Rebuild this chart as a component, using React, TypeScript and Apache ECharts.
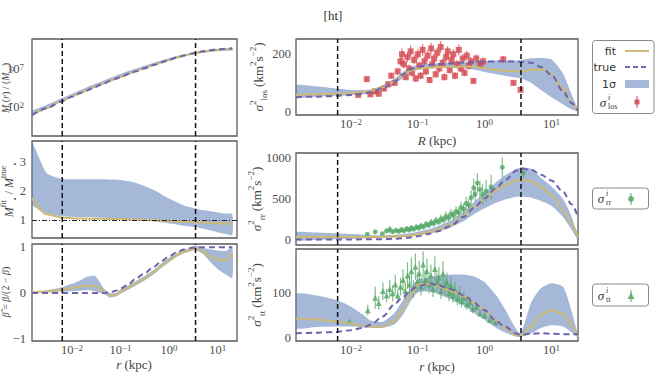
import React, { useEffect, useRef } from 'react';
import * as echarts from 'echarts';

const SERIF = 'Liberation Serif';
const SANS = 'DejaVu Sans';

const C_FIT = '#ccb974';
const C_TRUE = '#6f62ae';
const C_BAND = '#4c72b0';
const C_RED = '#d4474f';
const C_GREEN = '#55a868';
const C_VLINE = '#111111';
const AXIS_GRAY = '#5a5a5a';
const LABEL_GRAY = '#4d4d4d';

// ---------- data ----------
const rLeft = [0.0015, 0.003, 0.006, 0.01, 0.015, 0.02, 0.03, 0.045, 0.06, 0.08, 0.1, 0.15, 0.2, 0.3, 0.5, 0.7, 1, 1.5, 2, 3, 3.5, 5, 7, 10, 15, 20];
const rRight = [0.0015, 0.003, 0.006, 0.01, 0.015, 0.02, 0.03, 0.045, 0.06, 0.08, 0.1, 0.15, 0.2, 0.3, 0.5, 0.7, 1, 1.5, 2, 3, 3.5, 5, 7, 10, 15, 20, 25];
const boundaryRadii = [0.0063, 3.5];
const radiusRange = [0.0015, 25];

// log10 M(r)
const massTrue = [0.95, 1.85, 2.75, 3.38, 3.88, 4.2, 4.68, 5.12, 5.45, 5.75, 5.99, 6.42, 6.7, 7.12, 7.6, 7.92, 8.25, 8.6, 8.82, 9.1, 9.18, 9.38, 9.52, 9.63, 9.72, 9.77];
const massFit = [0.97, 1.87, 2.77, 3.4, 3.9, 4.22, 4.7, 5.14, 5.47, 5.77, 6.0, 6.43, 6.71, 7.12, 7.6, 7.91, 8.24, 8.58, 8.8, 9.07, 9.15, 9.34, 9.47, 9.58, 9.66, 9.71];
const massLow = [0.9, 1.8, 2.72, 3.36, 3.86, 4.18, 4.66, 5.1, 5.43, 5.73, 5.97, 6.4, 6.68, 7.08, 7.55, 7.85, 8.16, 8.48, 8.68, 8.94, 9.0, 9.17, 9.28, 9.37, 9.44, 9.47];
const massHigh = [1.5, 2.3, 3.15, 3.78, 4.28, 4.6, 5.08, 5.52, 5.85, 6.15, 6.38, 6.8, 7.06, 7.45, 7.9, 8.18, 8.48, 8.78, 8.96, 9.2, 9.27, 9.45, 9.58, 9.68, 9.76, 9.82];

const ratioFit = [1.75, 1.2, 1.09, 1.06, 1.05, 1.05, 1.04, 1.04, 1.03, 1.03, 1.03, 1.02, 1.01, 1.0, 0.99, 0.98, 0.97, 0.95, 0.94, 0.93, 0.92, 0.91, 0.9, 0.89, 0.88, 0.87];
const ratioLow = [1.55, 1.22, 1.13, 1.11, 1.1, 1.1, 1.09, 1.08, 1.07, 1.06, 1.05, 1.03, 1.0, 0.98, 0.95, 0.92, 0.88, 0.84, 0.8, 0.77, 0.76, 0.7, 0.65, 0.58, 0.52, 0.48];
const ratioHigh = [3.65, 2.62, 2.42, 2.4, 2.4, 2.4, 2.4, 2.4, 2.39, 2.39, 2.38, 2.33, 2.28, 2.18, 2.02, 1.88, 1.74, 1.6, 1.5, 1.42, 1.4, 1.34, 1.3, 1.26, 1.22, 1.2];

const betaTrue = [0, 0, 0, 0, 0, 0, 0, 0, 0.01, 0.05, 0.1, 0.2, 0.3, 0.42, 0.58, 0.7, 0.8, 0.9, 0.95, 0.99, 1, 1, 1, 1, 1, 1];
const betaFit = [0.01, 0.03, 0.07, 0.11, 0.14, 0.16, 0.14, 0.05, -0.06, -0.04, 0.03, 0.13, 0.2, 0.31, 0.47, 0.6, 0.72, 0.84, 0.9, 0.96, 0.98, 0.9, 0.8, 0.72, 0.72, 0.88];
const betaLow = [0.0, 0.01, 0.03, 0.04, 0.05, 0.06, 0.04, -0.02, -0.1, -0.08, -0.02, 0.08, 0.15, 0.26, 0.42, 0.55, 0.67, 0.8, 0.86, 0.92, 0.94, 0.85, 0.68, 0.52, 0.4, 0.33];
const betaHigh = [0.02, 0.06, 0.12, 0.2, 0.28, 0.35, 0.37, 0.1, 0.0, 0.0, 0.08, 0.18, 0.25, 0.36, 0.52, 0.65, 0.77, 0.88, 0.94, 1.0, 1.03, 0.98, 0.95, 0.93, 0.92, 1.0];

const losTrue = [50, 52, 55, 58, 62, 68, 82, 105, 130, 148, 157, 163, 166, 168, 171, 173, 174, 175, 175, 174, 173, 170, 155, 128, 70, 30, 3];
const losFit = [58, 60, 62, 64, 68, 72, 85, 105, 128, 143, 150, 154, 155, 156, 157, 156, 152, 145, 143, 140, 140, 146, 147, 132, 80, 30, 3];
const losLow = [50, 52, 55, 57, 60, 64, 75, 95, 118, 136, 146, 150, 152, 152, 150, 146, 138, 130, 125, 118, 116, 100, 75, 50, 25, 8, 0];
const losHigh = [92, 88, 80, 75, 75, 78, 92, 115, 138, 155, 162, 166, 168, 170, 172, 174, 176, 178, 178, 178, 180, 186, 187, 182, 132, 60, 8];

const rrTrue = [8, 9, 10, 10, 11, 11, 12, 18, 25, 35, 48, 80, 110, 170, 290, 400, 510, 640, 730, 850, 875, 860, 800, 730, 590, 440, 280];
const rrFit = [40, 40, 40, 40, 40, 41, 43, 46, 50, 58, 70, 100, 130, 185, 300, 410, 500, 610, 670, 730, 740, 720, 650, 550, 370, 200, 30];
const rrLow = [0, 5, 12, 18, 22, 25, 30, 35, 40, 48, 58, 82, 105, 150, 240, 320, 390, 460, 495, 530, 535, 520, 480, 420, 280, 130, 0];
const rrHigh = [100, 95, 85, 75, 68, 62, 60, 66, 75, 90, 105, 140, 175, 235, 355, 470, 580, 710, 790, 870, 890, 870, 760, 660, 500, 290, 40];

const ttTrue = [10, 11, 13, 17, 22, 30, 48, 76, 92, 108, 116, 122, 118, 110, 95, 78, 62, 37, 25, 9, 6, 9, 10, 9, 8, 8, 8];
const ttFit = [43, 41, 37, 32, 27, 25, 25, 38, 64, 98, 120, 121, 116, 107, 93, 78, 63, 38, 22, 5, 4, 25, 52, 62, 54, 28, 2];
const ttLow = [22, 24, 25, 25, 23, 22, 22, 30, 52, 85, 102, 104, 98, 88, 72, 55, 40, 22, 12, 2, 2, 10, 22, 28, 25, 12, 0];
const ttHigh = [98, 95, 85, 70, 52, 38, 36, 56, 85, 115, 132, 135, 140, 142, 142, 138, 125, 95, 65, 18, 10, 80, 112, 123, 115, 60, 5];

// observed points: [R (kpc), value, error]
const losObs = [
  [0.0128, 58, 6], [0.0172, 113, 8], [0.0195, 60, 6], [0.023, 70, 7], [0.026, 62, 6], [0.031, 80, 8],
  [0.036, 95, 10], [0.04, 125, 10], [0.045, 100, 9], [0.05, 140, 12], [0.055, 175, 15], [0.058, 200, 20],
  [0.062, 165, 15], [0.066, 120, 12], [0.07, 190, 18], [0.074, 150, 14], [0.078, 210, 20], [0.082, 135, 12],
  [0.088, 180, 16], [0.093, 115, 12], [0.1, 200, 18], [0.105, 160, 14], [0.11, 125, 12], [0.118, 215, 20],
  [0.125, 175, 16], [0.132, 140, 13], [0.14, 195, 18], [0.15, 110, 11], [0.158, 220, 20], [0.165, 165, 15],
  [0.175, 185, 17], [0.185, 130, 12], [0.195, 205, 18], [0.21, 150, 14], [0.22, 225, 20], [0.235, 170, 15],
  [0.25, 120, 12], [0.265, 190, 17], [0.28, 210, 19], [0.3, 145, 13], [0.32, 180, 16], [0.34, 200, 18],
  [0.36, 125, 12], [0.385, 165, 15], [0.41, 215, 19], [0.44, 150, 14], [0.47, 185, 16], [0.5, 135, 12],
  [0.54, 195, 17], [0.58, 160, 14], [0.62, 175, 15], [0.68, 107, 8], [0.75, 185, 15], [0.85, 165, 14],
  [0.95, 175, 14], [1.9, 182, 12], [2.7, 100, 8], [3.45, 76, 8],
];
const rrObs = [
  [0.0175, 73, 10], [0.023, 102, 18], [0.0295, 80, 12], [0.034, 115, 25], [0.038, 130, 45], [0.042, 105, 20],
  [0.047, 120, 25], [0.052, 110, 20], [0.057, 130, 30], [0.062, 115, 20], [0.068, 140, 30], [0.074, 125, 25],
  [0.08, 150, 35], [0.087, 135, 25], [0.095, 160, 35], [0.103, 150, 30], [0.112, 175, 40], [0.122, 165, 30],
  [0.133, 195, 40], [0.145, 185, 35], [0.158, 215, 45], [0.172, 205, 40], [0.187, 240, 50], [0.204, 225, 40],
  [0.222, 260, 55], [0.242, 250, 45], [0.264, 290, 60], [0.288, 275, 50], [0.314, 320, 60], [0.342, 305, 55],
  [0.373, 350, 65], [0.407, 340, 60], [0.444, 400, 70], [0.484, 380, 65], [0.528, 450, 80], [0.576, 430, 75],
  [0.628, 520, 90], [0.685, 640, 110], [0.72, 560, 90], [0.78, 700, 120], [0.85, 620, 100], [0.93, 560, 130],
  [1.05, 600, 140], [1.25, 650, 150], [1.84, 890, 120], [3.8, 820, 60],
];
const ttObs = [
  [0.0095, 37, 3], [0.0178, 62, 12], [0.023, 90, 25], [0.026, 78, 15], [0.03, 105, 20], [0.034, 95, 15],
  [0.038, 110, 20], [0.042, 100, 18], [0.046, 120, 22], [0.05, 95, 15], [0.055, 115, 20], [0.06, 130, 25],
  [0.065, 105, 18], [0.07, 140, 30], [0.075, 120, 22], [0.08, 150, 30], [0.086, 110, 20], [0.092, 160, 30],
  [0.098, 125, 22], [0.105, 145, 28], [0.112, 115, 20], [0.12, 165, 30], [0.128, 130, 22], [0.137, 150, 28],
  [0.147, 120, 20], [0.157, 140, 25], [0.168, 110, 18], [0.18, 155, 28], [0.193, 125, 22], [0.207, 135, 25],
  [0.222, 105, 18], [0.238, 145, 28], [0.255, 115, 20], [0.273, 125, 22], [0.292, 100, 18], [0.313, 118, 20],
  [0.335, 95, 16], [0.36, 108, 18], [0.39, 88, 15], [0.42, 100, 16], [0.45, 82, 14], [0.49, 90, 15],
  [0.54, 75, 12], [0.6, 80, 12], [0.66, 65, 10], [0.75, 70, 10], [0.85, 55, 8], [1.0, 50, 8],
  [1.2, 40, 6], [1.45, 35, 5],
];

// tick labels shown on each y axis
const massTicks = [2, 7];
const ratioTicks = [1, 2, 3];
const betaTicks = [-1, 0, 1];
const losTicks = [0, 200];
const rrTicks = [0, 500, 1000];
const ttTicks = [0, 100];

// y-axis limits of the six panels
const yLimits = [
  [-1.8, 11],
  [0.38, 3.72],
  [-1.05, 1.07],
  [-12, 253],
  [-58, 1065],
  [-7.5, 200],
];

// ---------- layout ----------
const GRIDS = [
  { left: 32, top: 39, width: 205, height: 97 },
  { left: 32, top: 141, width: 205, height: 97 },
  { left: 32, top: 244, width: 205, height: 97 },
  { left: 296, top: 39, width: 282, height: 76 },
  { left: 296, top: 153, width: 282, height: 92 },
  { left: 296, top: 249, width: 282, height: 92 },
];

const pair = (rs: number[], vs: number[]) => rs.map((r, i) => [r, vs[i]]);
const minus = (n: number) => (n < 0 ? '\u2212' + Math.abs(n) : String(n));

const SUP_RICH = {
  b: { fontFamily: SERIF, fontSize: 12.5, color: LABEL_GRAY, lineHeight: 14 },
  s: { fontFamily: SERIF, fontSize: 9, color: LABEL_GRAY, lineHeight: 6, verticalAlign: 'top' },
};

const logFmt = (v: number) => {
  const l = Math.log10(v);
  const e = Math.round(l);
  if (Math.abs(l - e) > 1e-6) return '';
  return `{b|10}{s|${minus(e)}}`;
};

function bandSeries(idx: number, rs: number[], lo: number[], hi: number[]) {
  return {
    type: 'custom',
    xAxisIndex: idx,
    yAxisIndex: idx,
    coordinateSystem: 'cartesian2d',
    data: [[rs[3], lo[3]]],
    clip: true,
    silent: true,
    z: 1,
    renderItem: (_p: any, api: any) => {
      const pts: number[][] = [];
      rs.forEach((r, i) => pts.push(api.coord([r, hi[i]])));
      for (let i = rs.length - 1; i >= 0; i--) pts.push(api.coord([rs[i], lo[i]]));
      return {
        type: 'polygon',
        shape: { points: pts, smooth: 0.2 },
        style: { fill: C_BAND, opacity: 0.5 },
      };
    },
  };
}

function lineSeries(idx: number, rs: number[], vs: number[], kind: 'fit' | 'true', marks?: any) {
  const s: any = {
    type: 'line',
    xAxisIndex: idx,
    yAxisIndex: idx,
    data: pair(rs, vs),
    showSymbol: false,
    smooth: 0.3,
    smoothMonotone: 'x',
    silent: true,
    z: kind === 'fit' ? 4 : 5,
    lineStyle:
      kind === 'fit'
        ? { color: C_FIT, width: 2 }
        : { color: C_TRUE, width: 2, type: [6, 4] },
  };
  if (marks) s.markLine = marks;
  return s;
}

// vertical dashed lines at the boundary radii, spanning the panel's y range
function boundarySeries(idx: number) {
  const [y0, y1] = yLimits[idx];
  return {
    type: 'custom',
    xAxisIndex: idx,
    yAxisIndex: idx,
    coordinateSystem: 'cartesian2d',
    data: boundaryRadii.map((r) => [r, y0]),
    encode: { x: 0, y: 1 },
    clip: true,
    silent: true,
    z: 6,
    renderItem: (_p: any, api: any) => {
      const r = api.value(0);
      const a = api.coord([r, y0]);
      const b = api.coord([r, y1]);
      return {
        type: 'line',
        shape: { x1: a[0], y1: a[1], x2: b[0], y2: b[1] },
        style: { stroke: C_VLINE, lineWidth: 1.5, lineDash: [5, 3] },
      };
    },
  };
}

function errSeries(idx: number, pts: number[][], color: string) {
  return {
    type: 'custom',
    xAxisIndex: idx,
    yAxisIndex: idx,
    coordinateSystem: 'cartesian2d',
    data: pts,
    encode: { x: 0, y: 1 },
    clip: true,
    silent: true,
    z: 2,
    renderItem: (_p: any, api: any) => {
      const r = api.value(0);
      const v = api.value(1);
      const e = api.value(2);
      const a = api.coord([r, v - e]);
      const b = api.coord([r, v + e]);
      return {
        type: 'line',
        shape: { x1: a[0], y1: a[1], x2: b[0], y2: b[1] },
        style: { stroke: color, lineWidth: 1.2, opacity: 0.75 },
      };
    },
  };
}

function pointSeries(idx: number, pts: number[][], color: string, symbol: string, size: number) {
  return {
    type: 'scatter',
    xAxisIndex: idx,
    yAxisIndex: idx,
    data: pts.map((p) => [p[0], p[1]]),
    symbol,
    symbolSize: size,
    silent: true,
    z: 3,
    itemStyle: { color, opacity: 0.8 },
  };
}

function yAxis(idx: number, ticks: number[], splitNumber: number, margin: number, log10Labels = false) {
  return {
    type: 'value',
    gridIndex: idx,
    min: yLimits[idx][0],
    max: yLimits[idx][1],
    splitNumber,
    axisLine: { show: false },
    axisTick: { show: false },
    splitLine: { show: false },
    axisLabel: {
      margin,
      fontFamily: SERIF,
      fontSize: 12.5,
      color: LABEL_GRAY,
      rich: SUP_RICH,
      formatter: (v: number) => {
        const t = ticks.find((k) => Math.abs(k - v) < 1e-6);
        if (t === undefined) return '';
        return log10Labels ? `{b|10}{s|${minus(t)}}` : `{b|${minus(t)}}`;
      },
    },
  };
}

function nameRich(size: number) {
  const small = Math.round(size * 0.7);
  return {
    sup: { fontFamily: SERIF, fontSize: small, fill: '#444', lineHeight: 8, verticalAlign: 'top' },
    sub: { fontFamily: SERIF, fontSize: small, fill: '#444', lineHeight: 10, verticalAlign: 'bottom' },
    it: { fontFamily: SERIF, fontSize: size, fontStyle: 'italic', fill: '#444', lineHeight: 20 },
    n: { fontFamily: SERIF, fontSize: size, fill: '#444', lineHeight: 20 },
  };
}

function nameText(x: number, y: number, text: string, rotated: boolean, size = 13) {
  return {
    type: 'text',
    x,
    y,
    rotation: rotated ? Math.PI / 2 : 0,
    silent: true,
    style: {
      text,
      rich: nameRich(size),
      fontFamily: SERIF,
      fontSize: size,
      fill: '#444',
      align: 'center',
      verticalAlign: 'middle',
      textAlign: 'center',
      textVerticalAlign: 'middle',
    },
  };
}

function txt(x: number, y: number, text: string, size: number, opts: any = {}) {
  return {
    type: 'text',
    x,
    y,
    silent: true,
    style: {
      text,
      fontFamily: opts.family || SERIF,
      fontSize: size,
      fontStyle: opts.italic ? 'italic' : 'normal',
      fill: opts.fill || '#333',
      align: opts.align || 'left',
      textAlign: opts.align || 'left',
      verticalAlign: 'middle',
      textVerticalAlign: 'middle',
    },
  };
}

function sigmaLabel(x: number, y: number, sub: string) {
  return [
    txt(x, y, '\u03c3', 13, { italic: true, align: 'center' }),
    txt(x + 5, y - 5, 'i', 8, { italic: true }),
    txt(x + 5, y + 4, sub, 8),
  ];
}

function buildOption() {
  const series: any[] = [
    // panel 0: mass
    bandSeries(0, rLeft, massLow, massHigh),
    lineSeries(0, rLeft, massFit, 'fit'),
    lineSeries(0, rLeft, massTrue, 'true'),
    // panel 1: mass ratio
    bandSeries(1, rLeft, ratioLow, ratioHigh),
    lineSeries(1, rLeft, ratioFit, 'fit', {
      silent: true,
      symbol: ['none', 'none'],
      label: { show: false },
      data: [{ yAxis: 1, lineStyle: { color: '#222', type: [5, 2, 1, 2], width: 1 } }],
    }),
    // panel 2: beta
    bandSeries(2, rLeft, betaLow, betaHigh),
    lineSeries(2, rLeft, betaFit, 'fit'),
    lineSeries(2, rLeft, betaTrue, 'true'),
    // panel 3: los
    bandSeries(3, rRight, losLow, losHigh),
    errSeries(3, losObs, C_RED),
    pointSeries(3, losObs, C_RED, 'rect', 6),
    lineSeries(3, rRight, losFit, 'fit'),
    lineSeries(3, rRight, losTrue, 'true'),
    // panel 4: rr
    bandSeries(4, rRight, rrLow, rrHigh),
    errSeries(4, rrObs, C_GREEN),
    pointSeries(4, rrObs, C_GREEN, 'circle', 5),
    lineSeries(4, rRight, rrFit, 'fit'),
    lineSeries(4, rRight, rrTrue, 'true'),
    // panel 5: tt
    bandSeries(5, rRight, ttLow, ttHigh),
    errSeries(5, ttObs, C_GREEN),
    pointSeries(5, ttObs, C_GREEN, 'triangle', 6),
    lineSeries(5, rRight, ttFit, 'fit'),
    lineSeries(5, rRight, ttTrue, 'true'),
    ...GRIDS.map((_g, i) => boundarySeries(i)),
  ];

  const graphic: any[] = [
    txt(333, 15, '[ht]', 13, { align: 'center' }),
    // axis names
    nameText(5, 88, '{it|M}{sub|\u2022}{n|(}{it|r}{n|) / (}{it|M}{sub|\u2299}{n|)}', true, 10),
    nameText(9, 190, '{it|M}{sup|fit}{sub|\u2022}{n| / }{it|M}{sup|true}{sub|\u2022}', true, 12),
    nameText(5, 292, '{it|\u03b2\u0303} {n|= }{it|\u03b2}{n|/(2 \u2212 }{it|\u03b2}{n|)}', true, 10),
    nameText(258, 77, '{it|\u03c3}{sup|2}{sub|los} {n|(km}{sup|2}{n|s}{sup|\u22122}{n|)}', true),
    nameText(256, 199, '{it|\u03c3}{sup|2}{sub|rr} {n|(km}{sup|2}{n|s}{sup|\u22122}{n|)}', true),
    nameText(256, 295, '{it|\u03c3}{sup|2}{sub|tt} {n|(km}{sup|2}{n|s}{sup|\u22122}{n|)}', true),
    nameText(134, 364, '{it|r} {n|(kpc)}', false),
    nameText(437, 140, '{it|R} {n|(kpc)}', false),
    nameText(437, 366, '{it|r} {n|(kpc)}', false),
    // legend box 1
    {
      type: 'rect', silent: true,
      shape: { x: 592.5, y: 40.5, width: 61.5, height: 73, r: 3 },
      style: { fill: '#ffffff', stroke: '#8a8a8a', lineWidth: 1 },
    },
    txt(616, 51, 'fit', 11, { align: 'right', family: SANS }),
    txt(616, 67, 'true', 11, { align: 'right', family: SANS }),
    txt(616, 84, '1\u03c3', 11, { align: 'right', family: SANS }),
    ...sigmaLabel(603, 102, 'los'),
    { type: 'line', silent: true, shape: { x1: 625, y1: 51, x2: 649, y2: 51 }, style: { stroke: C_FIT, lineWidth: 2 } },
    { type: 'line', silent: true, shape: { x1: 625, y1: 67, x2: 649, y2: 67 }, style: { stroke: C_TRUE, lineWidth: 2, lineDash: [5, 3] } },
    { type: 'rect', silent: true, shape: { x: 625, y: 80, width: 24, height: 8 }, style: { fill: C_BAND, opacity: 0.5 } },
    { type: 'line', silent: true, shape: { x1: 637, y1: 96, x2: 637, y2: 108 }, style: { stroke: C_RED, lineWidth: 1.3, opacity: 0.8 } },
    { type: 'rect', silent: true, shape: { x: 634.5, y: 99.5, width: 5, height: 5 }, style: { fill: C_RED, opacity: 0.85 } },
    // legend box 2
    {
      type: 'rect', silent: true,
      shape: { x: 592.5, y: 188, width: 56, height: 21, r: 3 },
      style: { fill: '#ffffff', stroke: '#8a8a8a', lineWidth: 1 },
    },
    ...sigmaLabel(601, 198, 'rr'),
    { type: 'line', silent: true, shape: { x1: 631, y1: 193, x2: 631, y2: 205 }, style: { stroke: C_GREEN, lineWidth: 1.3, opacity: 0.8 } },
    { type: 'circle', silent: true, shape: { cx: 631, cy: 199, r: 3 }, style: { fill: C_GREEN, opacity: 0.85 } },
    // legend box 3
    {
      type: 'rect', silent: true,
      shape: { x: 592.5, y: 284, width: 56, height: 22, r: 3 },
      style: { fill: '#ffffff', stroke: '#8a8a8a', lineWidth: 1 },
    },
    ...sigmaLabel(601, 295, 'tt'),
    { type: 'line', silent: true, shape: { x1: 631, y1: 290, x2: 631, y2: 302 }, style: { stroke: C_GREEN, lineWidth: 1.3, opacity: 0.8 } },
    { type: 'polygon', silent: true, shape: { points: [[631, 292.5], [627.5, 299], [634.5, 299]] }, style: { fill: C_GREEN, opacity: 0.85 } },
  ];

  return {
    animation: false,
    backgroundColor: '#ffffff',
    grid: GRIDS.map((g) => ({ ...g, show: true, borderColor: AXIS_GRAY, borderWidth: 1.3, backgroundColor: 'transparent', containLabel: false })),
    xAxis: GRIDS.map((_g, i) => ({
      type: 'log',
      logBase: 10,
      gridIndex: i,
      min: radiusRange[0],
      max: radiusRange[1],
      axisLine: { show: false },
      axisTick: { show: false },
      splitLine: { show: false },
      axisLabel: {
        show: i === 2 || i === 3 || i === 5,
        margin: 2,
        rich: SUP_RICH,
        formatter: logFmt,
      },
    })),
    yAxis: [
      yAxis(0, massTicks, 13, 8, true),
      yAxis(1, ratioTicks, 3, 6),
      yAxis(2, betaTicks, 2, 6),
      yAxis(3, losTicks, 5, 5),
      yAxis(4, rrTicks, 2, 5),
      yAxis(5, ttTicks, 2, 5),
    ],
    series,
    graphic,
  };
}

export default function App() {
  const ref = useRef<HTMLDivElement>(null);
  useEffect(() => {
    if (!ref.current) return;
    const chart = echarts.init(ref.current, undefined, { renderer: 'svg' });
    chart.setOption(buildOption() as any);
    return () => chart.dispose();
  }, []);
  return (
    <div
      ref={ref}
      style={{ position: 'absolute', left: 0, top: 0, width: 656, height: 382, background: '#fff' }}
    />
  );
}
